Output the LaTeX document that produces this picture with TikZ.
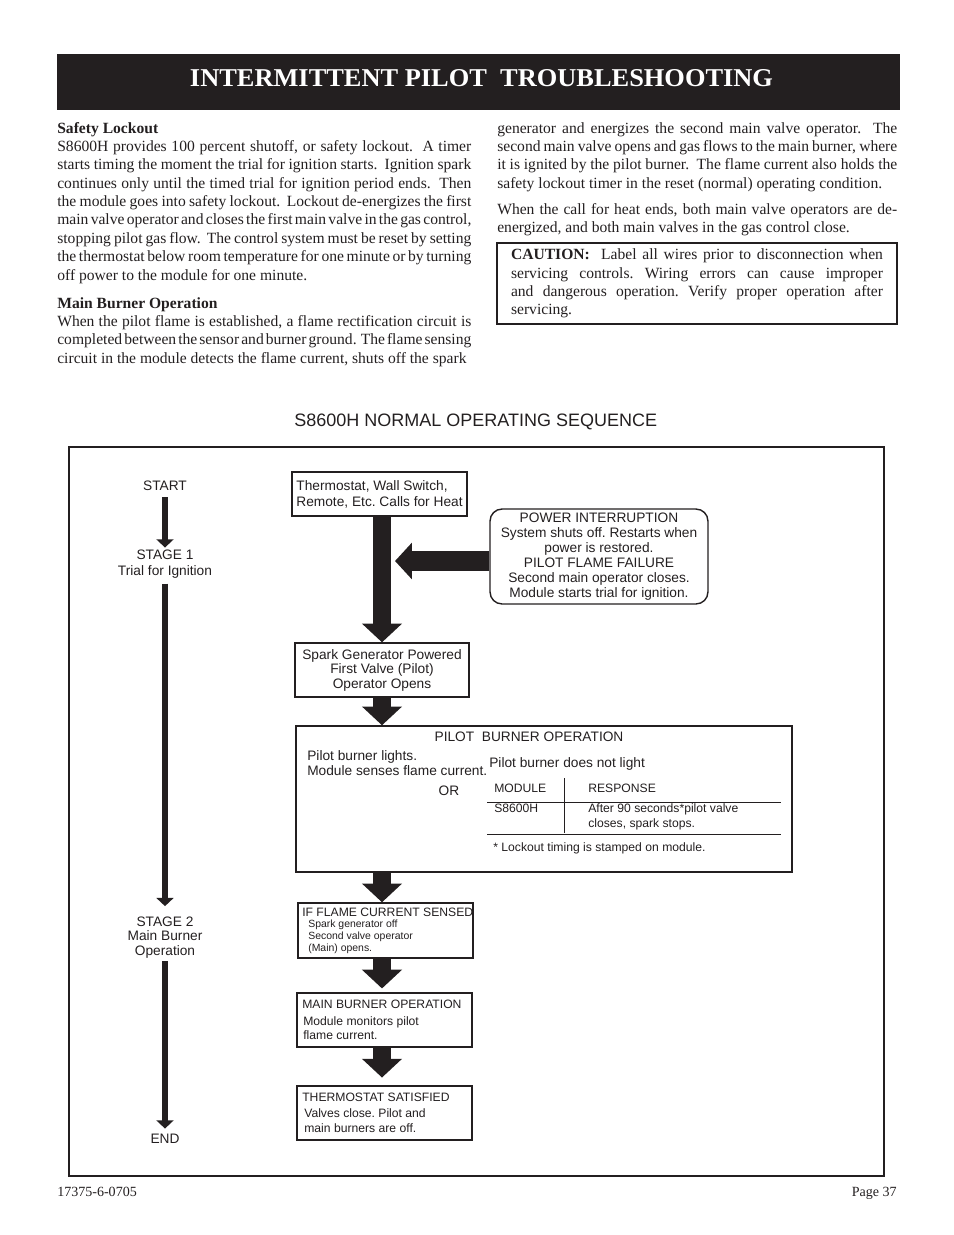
\documentclass[tikz,border=0pt]{standalone}
\usepackage{fontspec}
\setmainfont{Liberation Serif}[WordSpace={1,1.6,3}]
\newfontfamily\arialfont{Liberation Sans}
\usetikzlibrary{arrows.meta,positioning}
\definecolor{ink}{HTML}{231F20}
\newcommand\bodyfont{\fontsize{10}{11.8}\selectfont}
\newcommand\diagfont{\arialfont\frenchspacing\fontsize{8.8}{10}\selectfont}
\newcommand\diagsmall{\arialfont\frenchspacing\fontsize{7.8}{8.7}\selectfont}
\newcommand\diagtiny{\arialfont\frenchspacing\fontsize{6.7}{7.7}\selectfont}
\tolerance=10000
\tikzset{
    para/.style={inner sep=0pt, anchor=base west, align=justify, font=\bodyfont},
    txt/.style={inner sep=0pt, anchor=base west},
    flowbox/.style={draw=ink, line width=0.9pt, inner sep=0pt, font=\diagfont},
    bigflow/.style={ink, line width=11.5pt, -{Triangle[width=25pt,length=12pt]}},
    stagearrow/.style={ink, line width=4.3pt, -{Triangle[width=10.9pt,length=5.3pt]}},
    stagetext/.style={font=\diagfont, align=center, inner sep=1pt, anchor=base},
}
\begin{document}
\begin{tikzpicture}[x=0.6415pt, y=-0.6415pt, text=ink]
    \useasboundingbox (0,0) rectangle (954,1235);

    % title bar
    \node (titlebar) [fill=ink, minimum width=540.8pt, minimum height=35.9pt, inner sep=0pt] at (478.5,82) {};
    \node (title) [text=white, anchor=base, inner sep=0pt] at (481.5,86)
        {\resizebox{374pt}{10.9pt}{\bfseries INTERMITTENT PILOT\ \ TROUBLESHOOTING}};

    % text columns
    \node (lockout) [para, text width=265.6pt] at (57,133) {\textbf{Safety Lockout}\\
        S8600H provides 100 percent shutoff, or safety lockout.\ \ A timer\linebreak
        starts timing the moment the trial for ignition starts.\ \ Ignition spark\linebreak
        continues only until the timed trial for ignition period ends.\ \ Then\linebreak
        the module goes into safety lockout.\ \ Lockout de-energizes the first\linebreak
        main valve operator and closes the first main valve in the gas control,\linebreak
        stopping pilot gas flow.\ \ The control system must be reset by setting\linebreak
        the thermostat below room temperature for one minute or by turning\linebreak
        off power to the module for one minute.};
    \node (mainburner) [para, text width=265.6pt] at (57,308) {\parfillskip=0pt
        \textbf{Main Burner Operation}\\
        When the pilot flame is established, a flame rectification circuit is\linebreak
        completed between the sensor and burner ground.\ \ The flame sensing\linebreak
        circuit in the module detects the flame current, shuts off the spark};
    \node (generator) [para, text width=256.6pt] at (497,133) {%
        generator and energizes the second main valve operator.\ \ The\linebreak
        second main valve opens and gas flows to the main burner, where\linebreak
        it is ignited by the pilot burner.\ \ The flame current also holds the\linebreak
        safety lockout timer in the reset (normal) operating condition.};
    \node (heatends) [para, text width=256.6pt] at (497,214) {%
        When the call for heat ends, both main valve operators are de-\linebreak
        energized, and both main valves in the gas control close.};
    \node (caution) [draw=ink, line width=0.8pt, minimum width=256.6pt, minimum height=52pt,
        text width=238.6pt, align=justify, font=\bodyfont, inner xsep=9pt, inner ysep=0pt]
        at (697,283.5) {%
        \textbf{CAUTION:}\ \ Label all wires prior to disconnection when\linebreak
        servicing controls.\ Wiring errors can cause improper\linebreak
        and dangerous operation.\ Verify proper operation after\linebreak
        servicing.};

    % sequence diagram
    \node (seqtitle) [txt, font=\arialfont\fontsize{11.55}{13}\selectfont] at (294,426.5)
        {S8600H NORMAL OPERATING SEQUENCE};
    \draw[ink, line width=1pt] (69,447) rectangle (884,1176);

    % stages
    \node (start) [stagetext] at (165,490) {START};
    \node (stage1) [stagetext, font=\arialfont\fontsize{8.8}{10.26}\selectfont] at (165,575)
        {STAGE 1\\Trial for Ignition};
    \node (stage2) [stagetext, font=\arialfont\fontsize{8.8}{9}\selectfont] at (165,955)
        {STAGE 2\\Main Burner\\Operation};
    \node (finish) [stagetext] at (165,1143) {END};
    \draw[stagearrow, shorten <=3.5pt] (start) -- (stage1);
    \draw[stagearrow, shorten <=2.5pt, shorten >=6pt] (stage1) -- (stage2);
    \draw[stagearrow, shorten <=1pt, shorten >=2pt] (stage2) -- (finish);

    % flow boxes
    \node (heatcall) [flowbox, minimum width=112.3pt, minimum height=28.2pt, align=left,
        font=\arialfont\frenchspacing\fontsize{8.8}{10.26}\selectfont] at (379.5,494)
        {Thermostat, Wall Switch,\\Remote, Etc. Calls for Heat};
    \node (spark) [flowbox, minimum width=111.6pt, minimum height=34.6pt, align=center,
        font=\arialfont\fontsize{8.8}{9.3}\selectfont] at (382,670)
        {Spark Generator Powered\\First Valve (Pilot)\\Operator Opens};
    \node (power) [flowbox, rounded corners=7.7pt, minimum width=139.8pt, minimum height=60.9pt,
        align=center, font=\arialfont\frenchspacing\fontsize{8.8}{9.62}\selectfont] at (599,556.5)
        {POWER INTERRUPTION\\System shuts off. Restarts when\\power is restored.\\
         PILOT FLAME FAILURE\\Second main operator closes.\\Module starts trial for ignition.};
    \node (pilot) [flowbox, minimum width=318.2pt, minimum height=93.7pt] at (544,799) {};
    \node (sensed) [flowbox, minimum width=112.3pt, minimum height=35.3pt] at (385.5,930.5) {};
    \node (mainop) [flowbox, minimum width=112.3pt, minimum height=34.6pt] at (384.5,1020) {};
    \node (satisfied) [flowbox, minimum width=112.3pt, minimum height=34.6pt] at (384.5,1113) {};

    % flow arrows
    \coordinate (merge) at (395,561);
    \draw[bigflow] (spark.north |- heatcall.south) -- (spark.north);
    \draw[bigflow, line width=12.8pt, -{Triangle[width=23pt,length=10.9pt]}] (power.west |- merge) -- (merge);
    \draw[bigflow] (spark.south) -- (spark.south |- pilot.north);
    \draw[bigflow] (spark.south |- pilot.south) -- (spark.south |- sensed.north);
    \draw[bigflow, shorten >=2.5pt] (spark.south |- sensed.south) -- (spark.south |- mainop.north);
    \draw[bigflow, shorten >=5pt] (spark.south |- mainop.south) -- (spark.south |- satisfied.north);

    % pilot burner operation
    \node (pilothead) [inner sep=0pt, anchor=base, font=\diagfont] at (529,741) {PILOT\ \ BURNER OPERATION};
    \node (pilotlit) [txt, align=left, font=\arialfont\fontsize{8.8}{9}\selectfont] at (307,775)
        {Pilot burner lights.\\Module senses flame current.};
    \node (pilotor) [inner sep=0pt, anchor=base, font=\diagfont] at (449,795) {OR};
    \node (pilotunlit) [txt, font=\diagfont] at (489,767) {Pilot burner does not light};
    \node (modhead) [txt, font=\diagsmall] at (494,792) {MODULE};
    \node (resphead) [txt, font=\diagsmall] at (588,792) {RESPONSE};
    \node (modname) [txt, font=\diagsmall] at (494,812) {S8600H};
    \node (response) [txt, align=left, font=\arialfont\fontsize{7.8}{9.2}\selectfont] at (588,827)
        {After 90 seconds*pilot valve\\closes, spark stops.};
    \node (lockoutnote) [txt, font=\diagsmall] at (493,851) {* Lockout timing is stamped on module.};
    \draw[ink, line width=0.6pt] (564,778) -- (564,833);
    \draw[ink, line width=0.6pt] (487,802) -- (781,802);
    \draw[ink, line width=0.6pt] (487,834) -- (781,834);

    % later boxes
    \node (sensedhead) [txt, font=\diagsmall] at (302,916) {IF FLAME CURRENT SENSED};
    \node (sensedbody) [txt, align=left, font=\diagtiny] at (308,951)
        {Spark generator off\\Second valve operator\\(Main) opens.};
    \node (mainophead) [txt, font=\diagsmall] at (302,1008) {MAIN BURNER OPERATION};
    \node (mainopbody) [txt, align=left, font=\arialfont\fontsize{7.8}{8.66}\selectfont] at (303,1039)
        {Module monitors pilot\\flame current.};
    \node (satisfiedhead) [txt, font=\diagsmall] at (302,1101) {THERMOSTAT SATISFIED};
    \node (satisfiedbody) [txt, align=left, font=\arialfont\frenchspacing\fontsize{7.8}{9}\selectfont] at (304,1132)
        {Valves close. Pilot and\\main burners are off.};

    % footer
    \node (docnum) [txt, font=\fontsize{9}{10}\selectfont] at (57,1196) {17375-6-0705};
    \node (pagenum) [inner sep=0pt, anchor=base east, font=\fontsize{9}{10}\selectfont] at (897,1196) {Page 37};
\end{tikzpicture}
\end{document}
